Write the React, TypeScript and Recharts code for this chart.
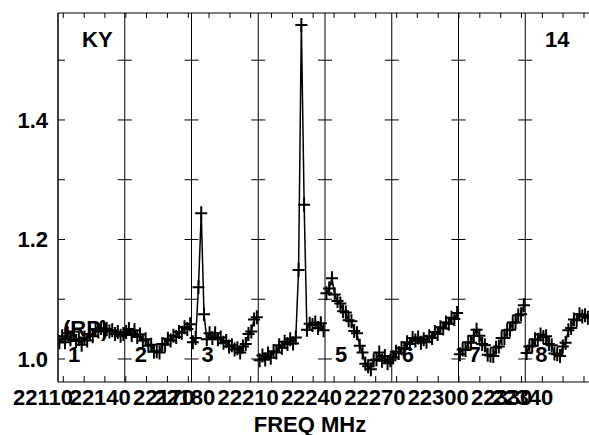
import { ComposedChart, ReferenceLine, Scatter, XAxis, YAxis } from "recharts";

const FONT = "'Liberation Sans', Arial, Helvetica, sans-serif";

// IF layout (MHz)
const IF_BANDWIDTH = 31.6;
const ifStart = [22120.0, 22151.6, 22183.2, 22214.8, 22246.4, 22278.0, 22309.6, 22341.2];
const ifNames = ["1", "2", "3", "", "5", "6", "7", "8"];

// amplitude per channel, 24 channels per IF
const if1 = [1.028, 1.038, 1.028, 1.043, 1.033, 1.046, 1.03, 1.034, 1.024, 1.036, 1.031, 1.042,
  1.038, 1.049, 1.046, 1.052, 1.048, 1.05, 1.046, 1.048, 1.042, 1.045, 1.039, 1.042];
const if2 = [1.045, 1.05, 1.04, 1.048, 1.037, 1.041, 1.031, 1.033, 1.022, 1.024, 1.012, 1.013,
  1.011, 1.025, 1.024, 1.034, 1.031, 1.039, 1.037, 1.045, 1.044, 1.053, 1.05, 1.058];
const if3 = [1.028, 1.035, 1.12, 1.244, 1.075, 1.033, 1.043, 1.035, 1.043, 1.033, 1.036, 1.027,
  1.03, 1.021, 1.023, 1.016, 1.018, 1.011, 1.021, 1.025, 1.042, 1.046, 1.066, 1.07];
const if4 = [0.998, 1.006, 0.999, 1.009, 1.002, 1.013, 1.011, 1.023, 1.019, 1.029, 1.025, 1.033,
  1.026, 1.036, 1.149, 1.559, 1.258, 1.049, 1.059, 1.057, 1.061, 1.052, 1.06, 1.048];
const if5 = [1.11, 1.118, 1.135, 1.108, 1.097, 1.093, 1.08, 1.078, 1.065, 1.063, 1.047, 1.043,
  1.022, 1.011, 0.992, 0.988, 0.983, 0.998, 0.999, 1.011, 0.997, 1.005, 0.993, 0.998];
const if6 = [1.003, 1.012, 1.01, 1.018, 1.017, 1.028, 1.025, 1.035, 1.031, 1.036, 1.027, 1.033,
  1.029, 1.038, 1.035, 1.045, 1.042, 1.053, 1.051, 1.061, 1.059, 1.069, 1.067, 1.077];
const if7 = [1.008, 1.016, 1.015, 1.028, 1.027, 1.039, 1.049, 1.039, 1.025, 1.023, 1.007, 1.006,
  1.005, 1.019, 1.021, 1.035, 1.035, 1.048, 1.049, 1.061, 1.061, 1.073, 1.075, 1.09];
const if8 = [1.01, 1.021, 1.022, 1.033, 1.032, 1.041, 1.037, 1.038, 1.025, 1.023, 1.009, 1.008,
  1.005, 1.021, 1.027, 1.048, 1.052, 1.066, 1.065, 1.075, 1.071, 1.073, 1.069, 1.073];
const ifValues = [if1, if2, if3, if4, if5, if6, if7, if8];

// axes
const X_MIN = 22120;
const X_MAX = 22372.8;
const Y_MIN = 0.9615;
const Y_MAX = 1.579;
const freqTicks = [22110, 22140, 22170, 22180, 22210, 22240, 22270, 22300, 22330, 22340];
const freqMinor = [22122.5, 22132.4, 22142.2, 22152.1, 22161.9, 22171.8, 22181.7, 22191.5,
  22201.4, 22211.2, 22221.1, 22231.0, 22240.8, 22250.7, 22260.5, 22270.4, 22280.3, 22290.1,
  22300.0, 22309.8, 22319.7, 22329.6, 22339.4, 22349.3, 22359.1, 22369.0];
const ampTicks = [1.0, 1.2, 1.4];
const ampMinor = [1.0, 1.1, 1.2, 1.3, 1.4, 1.5];

const series = ifValues.map((vals, k) =>
  vals.map((v, j) => ({ f: ifStart[k] + ((j + 0.5) * IF_BANDWIDTH) / vals.length, v }))
);
const dividerTicks = ifStart.slice(1).flatMap((f) => ampMinor.map((v) => ({ f, v })));
const leftTicks = ampMinor.map((v) => ({ f: ifStart[0], v }));
const bottomTicks = freqMinor.map((f) => ({ f, v: Y_MIN }));
const topTicks = freqMinor.map((f) => ({ f, v: Y_MAX }));

const textStyle = { fontFamily: FONT, fontWeight: "bold" as const, fontSize: 22, fill: "#000" };

function Plus({ cx, cy }: any) {
  return (
    <path
      d={`M${cx - 6},${cy}H${cx + 6}M${cx},${cy - 7}V${cy + 7}`}
      stroke="#000"
      strokeWidth={2}
      fill="none"
    />
  );
}

function CrossTick({ cx, cy }: any) {
  return <line x1={cx - 7} x2={cx + 7} y1={cy} y2={cy} stroke="#000" />;
}
function InnerTick({ cx, cy }: any) {
  return <line x1={cx} x2={cx + 7} y1={cy} y2={cy} stroke="#000" />;
}
function BottomTick({ cx, cy }: any) {
  return <line x1={cx} x2={cx} y1={cy} y2={cy - 6} stroke="#000" />;
}
function TopTick({ cx, cy }: any) {
  return <line x1={cx} x2={cx} y1={cy} y2={cy + 5} stroke="#000" />;
}

function FreqTick({ x, y, payload }: any) {
  // AIPS keeps the first label inside the frame
  return (
    <text x={Math.max(x, 43)} y={y} dy="0.71em" textAnchor="middle" {...textStyle}>
      {payload.value}
    </text>
  );
}

function PanelLabel({ viewBox, text }: any) {
  if (!viewBox || !text) return null;
  return (
    <text x={viewBox.x + 10} y={viewBox.y + viewBox.height - 20} {...textStyle}>
      {text}
    </text>
  );
}

export default function App() {
  return (
    <div
      style={{
        position: "absolute",
        left: 0,
        top: 0,
        width: 589,
        height: 435,
        overflow: "hidden",
        background: "#fff",
      }}
    >
      <ComposedChart
        width={600}
        height={435}
        margin={{ top: 13, right: 8, bottom: 0, left: 0 }}
      >
        <XAxis
          dataKey="f"
          type="number"
          domain={[X_MIN, X_MAX]}
          allowDataOverflow
          ticks={freqTicks}
          interval={0}
          tick={<FreqTick />}
          tickLine={false}
          tickSize={0}
          tickMargin={7}
          height={53}
          axisLine={{ stroke: "#000" }}
          label={{ value: "FREQ MHz", position: "insideBottom", offset: 3, dx: -15, style: textStyle }}
        />
        <YAxis
          dataKey="v"
          type="number"
          domain={[Y_MIN, Y_MAX]}
          allowDataOverflow
          ticks={ampTicks}
          interval={0}
          width={58}
          tickLine={false}
          tickSize={0}
          tickMargin={10}
          tickFormatter={(v: number) => v.toFixed(1)}
          tick={textStyle}
          axisLine={{ stroke: "#000" }}
        />
        <ReferenceLine y={Y_MAX} stroke="#000" />
        {ifStart.map((f, k) => (
          <ReferenceLine
            key={f}
            x={f}
            stroke="#000"
            label={<PanelLabel text={ifNames[k]} />}
          />
        ))}
        <Scatter data={dividerTicks} shape={<CrossTick />} isAnimationActive={false} />
        <Scatter data={leftTicks} shape={<InnerTick />} isAnimationActive={false} />
        <Scatter data={bottomTicks} shape={<BottomTick />} isAnimationActive={false} />
        <Scatter data={topTicks} shape={<TopTick />} isAnimationActive={false} />
        {series.map((d, k) => (
          <Scatter
            key={k}
            data={d}
            line={{ stroke: "#000", strokeWidth: 1.5 }}
            lineType="joint"
            shape={<Plus />}
            isAnimationActive={false}
          />
        ))}
        <text x={82} y={47} {...textStyle}>KY</text>
        <text x={545} y={47} {...textStyle}>14</text>
        <text x={63} y={336} {...textStyle}>(RP)</text>
      </ComposedChart>
    </div>
  );
}
